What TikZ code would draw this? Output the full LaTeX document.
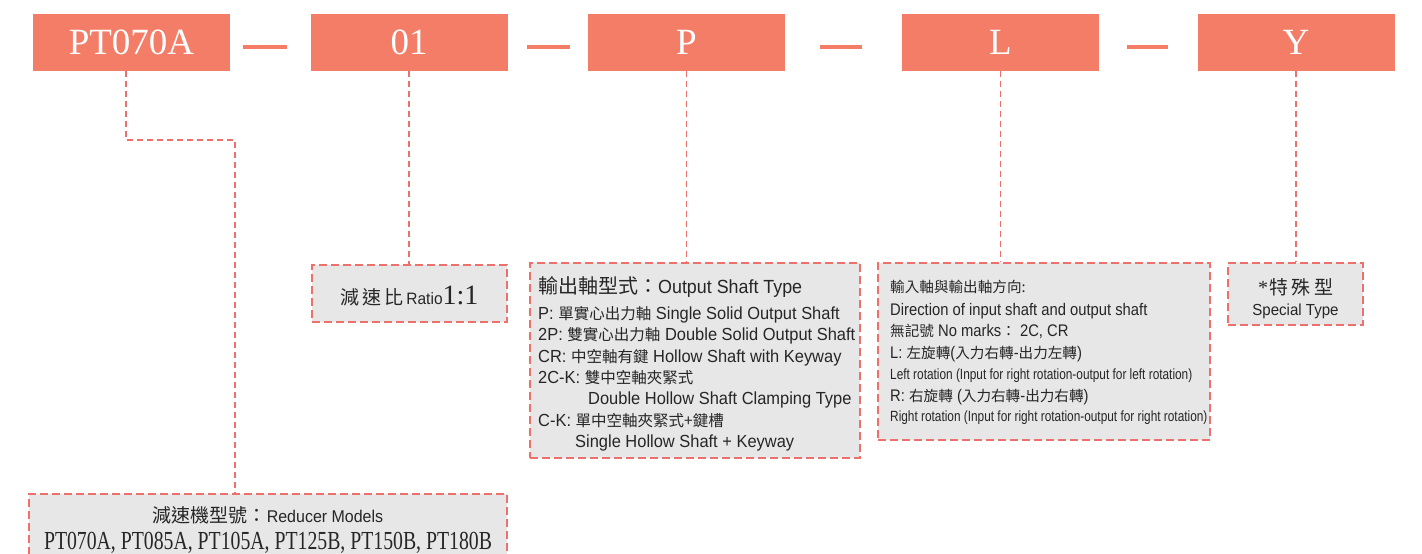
\documentclass[tikz,border=0pt]{standalone}
\usepackage{fontspec}
\setmainfont{Liberation Serif}
\newfontfamily\hdrfont{Liberation Serif}
\newfontfamily\sansb[FakeStretch=0.94]{Liberation Sans}
\newfontfamily\sansd[FakeStretch=0.88]{Liberation Sans}
\newfontfamily\sansn[FakeStretch=0.8]{Liberation Sans}
\newfontfamily\cjkf{Noto Sans CJK TC}
\newfontfamily\serifn[FakeStretch=0.76]{Liberation Serif}
\newcommand{\C}[1]{{\cjkf\fontsize{15.5}{20}\selectfont #1}}
\newcommand{\D}[1]{{\cjkf\fontsize{14.6}{20}\selectfont #1}}
\definecolor{salmon}{RGB}{244,125,104}
\definecolor{dashc}{RGB}{238,112,108}
\definecolor{boxfill}{RGB}{231,231,231}
\definecolor{txt}{RGB}{38,38,38}
\begin{document}
\begin{tikzpicture}[x=1pt,y=-1pt,
  hdr/.style={fill=salmon, minimum width=197pt, minimum height=57pt, inner sep=0pt,
    text=white, font=\hdrfont\fontsize{37}{40}\selectfont},
  sep/.style={draw=salmon, line width=4.5pt},
  infobox/.style={draw=dashc, fill=boxfill, line width=1.8pt, dash pattern=on 8pt off 4pt, inner sep=0pt},
  conn/.style={draw=dashc, line width=1.3pt, dash pattern=on 6pt off 4pt},
  ln/.style={anchor=base west, inner sep=0pt, text=txt, font=\sansb\fontsize{17.5}{20}\selectfont},
  lnd/.style={anchor=base west, inner sep=0pt, text=txt, font=\sansd\fontsize{16.8}{20}\selectfont},
  lns/.style={anchor=base west, inner sep=0pt, text=txt, font=\sansn\fontsize{14.8}{17}\selectfont},
  ctr/.style={anchor=base, inner sep=0pt, text=txt}
]
\clip (0,0) rectangle (1422,554);
\fill[white] (0,0) rectangle (1422,554);

% header boxes
\node[hdr] (h1) at (131.5,42.5) {PT070A};
\node[hdr] (h2) at (409,42.5) {01};
\node[hdr] (h3) at (686.5,42.5) {P};
\node[hdr] (h4) at (1000.5,42.5) {L};
\node[hdr] (h5) at (1296,42.5) {Y};

% separators
\coordinate (s1a) at (243,47); \coordinate (s1b) at (287,47);
\coordinate (s2a) at (527,47); \coordinate (s2b) at (570,47);
\coordinate (s3a) at (820,47); \coordinate (s3b) at (862,47);
\coordinate (s4a) at (1127,47); \coordinate (s4b) at (1168,47);
\draw[sep] (s1a) -- (s1b);
\draw[sep] (s2a) -- (s2b);
\draw[sep] (s3a) -- (s3b);
\draw[sep] (s4a) -- (s4b);

% info boxes
\node[infobox, minimum width=478pt, minimum height=71pt] (b1) at (268,529.5) {};
\node[infobox, minimum width=195pt, minimum height=57pt] (b2) at (409.5,293.5) {};
\node[infobox, minimum width=330pt, minimum height=195pt] (b3) at (695,360.5) {};
\node[infobox, minimum width=332pt, minimum height=177pt] (b4) at (1044,351.5) {};
\node[infobox, minimum width=135pt, minimum height=62pt] (b5) at (1295.5,294) {};

% connectors
\coordinate (k1) at (126,140);
\coordinate (k2) at (235,140);
\draw[conn] (h1.south -| k1) -- (k1) -- (k2) -- (b1.north -| k2);
\draw[conn] (h2.south) -- (h2.south |- b2.north);
\draw[conn] (h3.south) -- (h3.south |- b3.north);
\draw[conn] (h4.south) -- (h4.south |- b4.north);
\draw[conn] (h5.south) -- (h5.south |- b5.north);

% ratio text
\node[ctr] (r1) at (409.5,304) {{\cjkf\fontsize{19}{20}\selectfont 減\,速\,比} {\sansb\fontsize{16.5}{20}\selectfont Ratio}{\fontsize{28}{30}\selectfont 1:1}};

% output shaft text
\node[ln] (o1) at (538,293) {{\cjkf\fontsize{20}{24}\selectfont 輸出軸型式：}{\fontsize{19}{22}\selectfont Output Shaft Type}};
\node[ln] (o2) at (538,319) {P: \C{單實心出力軸} Single Solid Output Shaft};
\node[ln] (o3) at (538,340) {2P: \C{雙實心出力軸} Double Solid Output Shaft};
\node[ln] (o4) at (538,362) {CR: \C{中空軸有鍵} Hollow Shaft with Keyway};
\node[ln] (o5) at (538,383) {2C-K: \C{雙中空軸夾緊式}};
\node[ln] (o6) at (588,404) {Double Hollow Shaft Clamping Type};
\node[ln] (o7) at (538,426) {C-K: \C{單中空軸夾緊式+鍵槽}};
\node[ln] (o8) at (575,447) {Single Hollow Shaft + Keyway};

% direction text
\node[lnd] (d1) at (890,292) {\D{輸入軸與輸出軸方向:}};
\node[lnd] (d2) at (890,315) {Direction of input shaft and output shaft};
\node[lnd] (d3) at (890,336) {\D{無記號} No marks\D{：} 2C, CR};
\node[lnd] (d4) at (890,358) {L: \D{左旋轉}(\D{入力右轉}-\D{出力左轉})};
\node[lns] (d5) at (890,379) {Left rotation (Input for right rotation-output for left rotation)};
\node[lnd] (d6) at (890,401) {R: \D{右旋轉} (\D{入力右轉}-\D{出力右轉})};
\node[lns] (d7) at (890,421) {Right rotation (Input for right rotation-output for right rotation)};

% special text
\node[ctr] (p1) at (1295.5,294) {{\fontsize{20}{22}\selectfont *}\,{\cjkf\fontsize{19}{22}\selectfont 特\,殊\,型}};
\node[ctr] (p2) at (1295.5,315) {\sansb\fontsize{16}{18}\selectfont Special Type};

% reducer text
\node[ctr] (m1) at (268,522) {{\cjkf\fontsize{19}{22}\selectfont 減速機型號：}{\sansb\fontsize{17}{20}\selectfont Reducer Models}};
\node[ctr] (m2) at (268,549) {\serifn\fontsize{26}{28}\selectfont PT070A, PT085A, PT105A, PT125B, PT150B, PT180B};
\end{tikzpicture}
\end{document}
